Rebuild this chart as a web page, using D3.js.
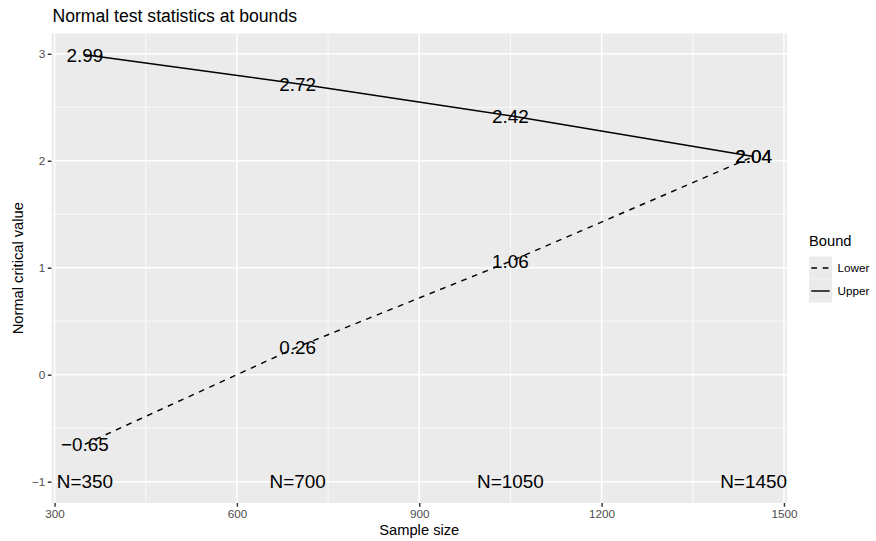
<!DOCTYPE html>
<html><head><meta charset="utf-8">
<script src="https://cdn.jsdelivr.net/npm/d3@7"></script>
<style>body{margin:0;background:#fff;} text{font-family:"Liberation Sans",Arial,sans-serif;}</style>
</head><body><svg id="c" width="876" height="541"></svg>
<script>
const sampleSizes = [350, 700, 1050, 1450];
const upperZ = [2.99, 2.72, 2.42, 2.04];
const lowerZ = [-0.65, 0.26, 1.06, 2.04];
const nLabels = ["N=350", "N=700", "N=1050", "N=1450"];
const xTicks = [300, 600, 900, 1200, 1500];
const yTicks = [-1, 0, 1, 2, 3];
const xMinor = [450, 750, 1050, 1350];
const yMinor = [-0.5, 0.5, 1.5, 2.5];
const boundNames = ["Lower", "Upper"];

const svg = d3.select("#c");
const L = 51.5, R = 787, T = 33.5, B = 503;
const x = d3.scaleLinear().domain([295, 1505]).range([L, R]);
const y = d3.scaleLinear().domain([-1.1995, 3.1895]).range([B, T]);

svg.append("rect").attr("x", L).attr("y", T).attr("width", R - L).attr("height", B - T).attr("fill", "#EBEBEB");
const g = svg.append("g");
g.selectAll(".xm").data(xMinor).join("line").attr("x1", d => x(d)).attr("x2", d => x(d)).attr("y1", T).attr("y2", B).attr("stroke", "#fff").attr("stroke-width", 0.75);
g.selectAll(".ym").data(yMinor).join("line").attr("y1", d => y(d)).attr("y2", d => y(d)).attr("x1", L).attr("x2", R).attr("stroke", "#fff").attr("stroke-width", 0.75);
g.selectAll(".xM").data(xTicks).join("line").attr("x1", d => x(d)).attr("x2", d => x(d)).attr("y1", T).attr("y2", B).attr("stroke", "#fff").attr("stroke-width", 1.45);
g.selectAll(".yM").data(yTicks).join("line").attr("y1", d => y(d)).attr("y2", d => y(d)).attr("x1", L).attr("x2", R).attr("stroke", "#fff").attr("stroke-width", 1.45);

// axes
const xa = svg.append("g").attr("transform", `translate(0,${B})`).call(d3.axisBottom(x).tickValues(xTicks).tickSize(3.7).tickPadding(2.5).tickFormat(d3.format("d")));
const ya = svg.append("g").attr("transform", `translate(${L},0)`).call(d3.axisLeft(y).tickValues(yTicks).tickSize(3.7).tickPadding(2.5).tickFormat(d => d < 0 ? "\u2212" + Math.abs(d) : d));
[xa, ya].forEach(a => {
  a.select(".domain").remove();
  a.selectAll("line").attr("stroke", "#333").attr("stroke-width", 1.45);
  a.selectAll("text").attr("fill", "#4D4D4D").style("font-size", "11.7px").style("font-family", "Liberation Sans, Arial, sans-serif");
});

const line = d3.line().x(d => x(d[0])).y(d => y(d[1]));
const upperPts = sampleSizes.map((s, i) => [s, upperZ[i]]);
const lowerPts = sampleSizes.map((s, i) => [s, lowerZ[i]]);
svg.append("path").datum(lowerPts).attr("d", line).attr("fill", "none").attr("stroke", "#000").attr("stroke-width", 1.45).attr("stroke-dasharray", "5.7,5.7");
svg.append("path").datum(upperPts).attr("d", line).attr("fill", "none").attr("stroke", "#000").attr("stroke-width", 1.45);

const fmt = v => (v < 0 ? "\u2212" : "") + Math.abs(v).toFixed(2);
[upperPts, lowerPts].forEach(pts => {
  svg.selectAll(null).data(pts).join("text").attr("x", d => x(d[0])).attr("y", d => y(d[1])).attr("dy", "0.36em").attr("text-anchor", "middle").style("font-size", "18.9px").attr("fill", "#000").text(d => fmt(d[1]));
});
svg.selectAll(null).data(sampleSizes).join("text").attr("x", d => x(d)).attr("y", y(-1)).attr("dy", "0.36em").attr("text-anchor", "middle").style("font-size", "18.9px").attr("fill", "#000").text((d, i) => nLabels[i]);

// titles
svg.append("text").attr("x", L + 1).attr("y", 22).style("font-size", "17.6px").attr("fill", "#000").text("Normal test statistics at bounds");
svg.append("text").attr("x", (L + R) / 2).attr("y", 535).attr("text-anchor", "middle").style("font-size", "14.7px").attr("fill", "#000").text("Sample size");
svg.append("text").attr("transform", `translate(23,${(T + B) / 2}) rotate(-90)`).attr("text-anchor", "middle").style("font-size", "14.7px").attr("fill", "#000").text("Normal critical value");

// legend
const lg = svg.append("g").attr("transform", "translate(809,0)");
lg.append("text").attr("x", 0).attr("y", 246).style("font-size", "14.7px").attr("fill", "#000").text("Bound");
boundNames.forEach((n, i) => {
  const cy = 268 + i * 23;
  lg.append("rect").attr("x", 0).attr("y", cy - 11.5).attr("width", 23).attr("height", 23).attr("fill", "#EBEBEB");
  lg.append("line").attr("x1", 2.3).attr("x2", 20.7).attr("y1", cy).attr("y2", cy).attr("stroke", "#000").attr("stroke-width", 1.45).attr("stroke-dasharray", i === 0 ? "5.7,5.7" : null);
  lg.append("text").attr("x", 28.5).attr("y", cy).attr("dy", "0.35em").style("font-size", "11.7px").attr("fill", "#000").text(n);
});
</script></body></html>
